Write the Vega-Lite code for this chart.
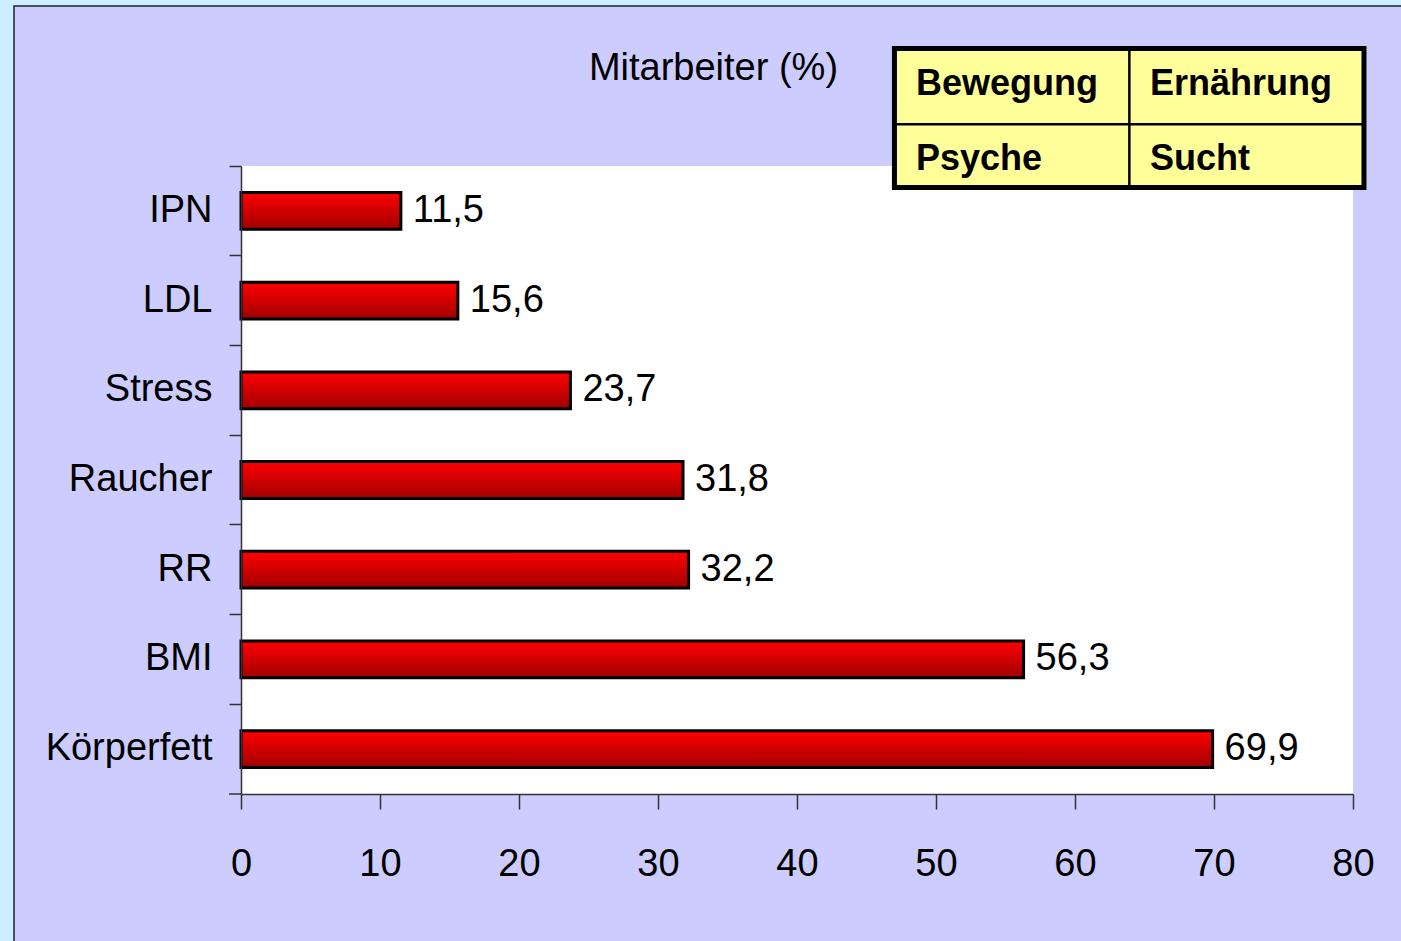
{
  "$schema": "https://vega.github.io/schema/vega-lite/v6.json",
  "width": 1112,
  "height": 628,
  "autosize": {"type": "none"},
  "padding": {"left": 241, "top": 166, "right": 48, "bottom": 147},
  "background": "#CCEEFF",
  "datasets": {
    "bars": [
      {"cat": "IPN", "value": 11.5},
      {"cat": "LDL", "value": 15.6},
      {"cat": "Stress", "value": 23.7},
      {"cat": "Raucher", "value": 31.8},
      {"cat": "RR", "value": 32.2},
      {"cat": "BMI", "value": 56.3},
      {"cat": "Körperfett", "value": 69.9}
    ],
    "panel": [{"x": -16.33, "x2": 90, "y": 125.48, "y2": -30}],
    "plotarea": [{"x": 0, "x2": 80, "y": 0, "y2": 100}],
    "tablebox": [{"x": 47.01, "x2": 80.79, "y": 96.58, "y2": 118.71}],
    "tablelines": [
      {"x": 63.91, "x2": 63.91, "y": 96.58, "y2": 118.71},
      {"x": 47.01, "x2": 80.79, "y": 106.64, "y2": 106.64}
    ],
    "cornertick": [{"x": -0.86, "x2": 0, "y": 0, "y2": 0}],
    "tablecells": [
      {"label": "Bewegung", "x": 48.56, "y": 111.3},
      {"label": "Ernährung", "x": 65.4, "y": 111.3},
      {"label": "Psyche", "x": 48.56, "y": 99.4},
      {"label": "Sucht", "x": 65.4, "y": 99.4}
    ],
    "titletext": [{"label": "Mitarbeiter (%)", "x": 33.99, "y": 113.69}]
  },
  "layer": [
    {
      "layer": [
        {
          "data": {"name": "panel"},
          "mark": {"type": "rect", "fill": "#CCCCFF", "stroke": "#222222", "strokeWidth": 1.5},
          "encoding": {
            "x": {"field": "x", "type": "quantitative", "scale": {"domain": [0, 80], "nice": false, "zero": false}, "axis": null},
            "x2": {"field": "x2"},
            "y": {"field": "y", "type": "quantitative", "scale": {"domain": [0, 100], "nice": false, "zero": false}, "axis": null},
            "y2": {"field": "y2"}
          }
        },
        {
          "data": {"name": "plotarea"},
          "mark": {"type": "rect", "fill": "#FFFFFF"},
          "encoding": {
            "x": {"field": "x", "type": "quantitative", "axis": null},
            "x2": {"field": "x2"},
            "y": {"field": "y", "type": "quantitative", "axis": null},
            "y2": {"field": "y2"}
          }
        },
        {
          "data": {"name": "cornertick"},
          "mark": {"type": "rule", "stroke": "#333333", "strokeWidth": 1.5},
          "encoding": {
            "x": {"field": "x", "type": "quantitative", "axis": null},
            "x2": {"field": "x2"},
            "y": {"field": "y", "type": "quantitative", "axis": null},
            "y2": {"field": "y2"}
          }
        },
        {
          "data": {"name": "titletext"},
          "mark": {"type": "text", "font": "Liberation Sans, Arial, sans-serif", "fontSize": 38, "align": "center", "baseline": "alphabetic", "color": "#000000"},
          "encoding": {
            "x": {"field": "x", "type": "quantitative", "axis": null},
            "y": {"field": "y", "type": "quantitative", "axis": null},
            "text": {"field": "label"}
          }
        },
        {
          "data": {"name": "tablebox"},
          "mark": {"type": "rect", "fill": "#FFFF99", "stroke": "#000000", "strokeWidth": 5},
          "encoding": {
            "x": {"field": "x", "type": "quantitative", "axis": null},
            "x2": {"field": "x2"},
            "y": {"field": "y", "type": "quantitative", "axis": null},
            "y2": {"field": "y2"}
          }
        },
        {
          "data": {"name": "tablelines"},
          "mark": {"type": "rule", "stroke": "#000000", "strokeWidth": 2.5},
          "encoding": {
            "x": {"field": "x", "type": "quantitative", "axis": null},
            "x2": {"field": "x2"},
            "y": {"field": "y", "type": "quantitative", "axis": null},
            "y2": {"field": "y2"}
          }
        },
        {
          "data": {"name": "tablecells"},
          "mark": {"type": "text", "font": "Liberation Sans, Arial, sans-serif", "fontWeight": "bold", "fontSize": 36, "align": "left", "baseline": "alphabetic", "color": "#000000"},
          "encoding": {
            "x": {"field": "x", "type": "quantitative", "axis": null},
            "y": {"field": "y", "type": "quantitative", "axis": null},
            "text": {"field": "label"}
          }
        }
      ]
    },
    {
      "data": {"name": "bars"},
      "layer": [
        {
          "mark": {
            "type": "bar",
            "height": {"band": 0.41},
            "fill": {
              "gradient": "linear",
              "x1": 0, "y1": 0, "x2": 0, "y2": 1,
              "stops": [
                {"offset": 0, "color": "#FF0000"},
                {"offset": 1, "color": "#A00000"}
              ]
            },
            "stroke": "#000000",
            "strokeWidth": 3
          },
          "encoding": {
            "x": {
              "field": "value", "type": "quantitative",
              "scale": {"domain": [0, 80], "nice": false, "zero": false},
              "axis": {
                "title": null, "grid": false, "values": [0, 10, 20, 30, 40, 50, 60, 70, 80],
                "tickSize": 15, "labelPadding": 36, "labelFlush": false, "zindex": 1,
                "labelFont": "Liberation Sans, Arial, sans-serif",
                "labelFontSize": 38, "labelColor": "#000000",
                "domainColor": "#333333", "tickColor": "#333333", "domainWidth": 1.5, "tickWidth": 1.5
              }
            },
            "y": {
              "field": "cat", "type": "nominal", "sort": null,
              "scale": {"paddingInner": 0, "paddingOuter": 0},
              "axis": {
                "title": null, "grid": false, "bandPosition": 0, "zindex": 1,
                "tickSize": 12, "labelPadding": 17,
                "labelFont": "Liberation Sans, Arial, sans-serif",
                "labelFontSize": 38, "labelColor": "#000000",
                "domainColor": "#333333", "tickColor": "#333333", "domainWidth": 1.5, "tickWidth": 1.5
              }
            }
          }
        },
        {
          "mark": {"type": "text", "align": "left", "baseline": "middle", "dx": 12, "font": "Liberation Sans, Arial, sans-serif", "fontSize": 38, "color": "#000000"},
          "encoding": {
            "x": {"field": "value", "type": "quantitative"},
            "y": {"field": "cat", "type": "nominal", "sort": null},
            "text": {"field": "value", "type": "quantitative", "format": ".1f"}
          }
        }
      ]
    }
  ],
  "resolve": {"scale": {"y": "independent"}, "axis": {"x": "independent", "y": "independent"}},
  "config": {
    "view": {"stroke": null, "fill": null},
    "locale": {"number": {"decimal": ",", "thousands": ".", "grouping": [3], "currency": ["", " €"]}}
  }
}
